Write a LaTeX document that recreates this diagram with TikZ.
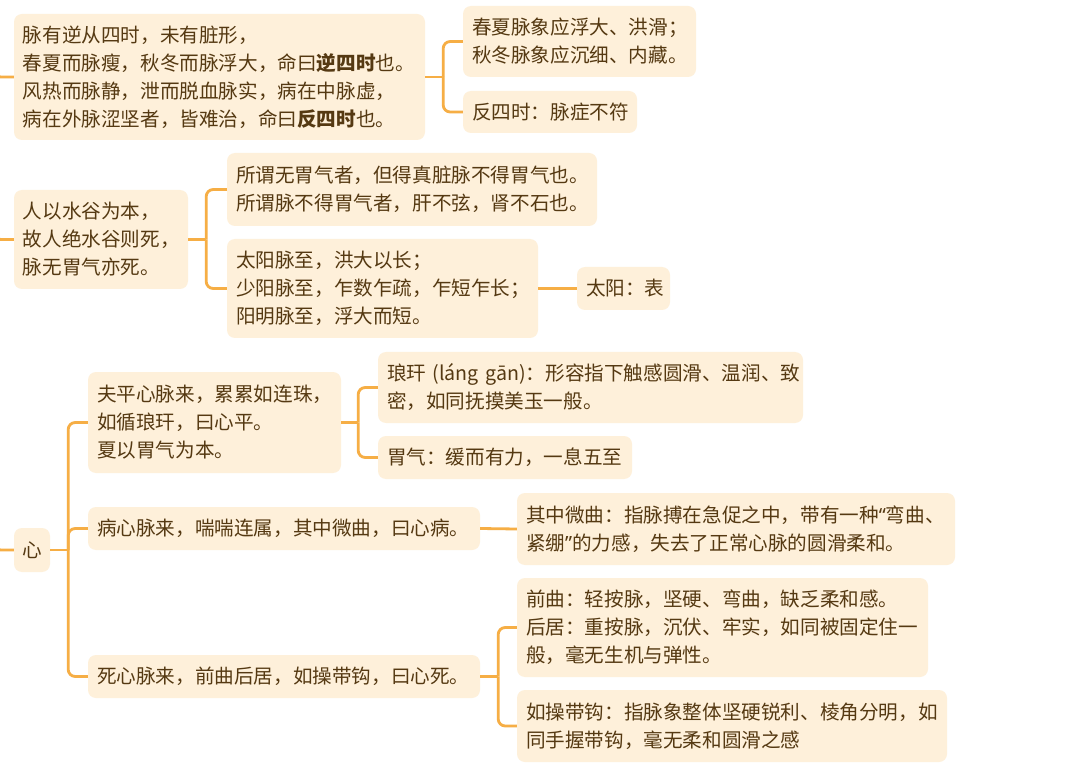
\documentclass[tikz,border=0pt]{standalone}
\usepackage{fontspec}
\setmainfont{Noto Sans CJK SC}
\newfontfamily\latq{Noto Sans}
\definecolor{boxfill}{HTML}{FEF0DA}
\definecolor{txt}{HTML}{553912}
\definecolor{ln}{HTML}{F6AE45}
\tikzset{
  box/.style={fill=boxfill, rounded corners=8pt, inner xsep=9pt, inner ysep=0pt,
    align=left, text=txt, font=\fontsize{19.6}{28}\selectfont},
  conn/.style={draw=ln, line width=2.8pt, rounded corners=7pt},
}
\newcommand{\bx}[6]{% name, cx, cy, w, h, text
  \node[box, minimum width=#4pt, minimum height=#5pt, text width=#4pt-18pt] (#1) at (#2,#3) {#6};}
\begin{document}
\begin{tikzpicture}[x=1pt,y=-1pt]
\path[fill=white] (0,0) rectangle (1080,770);
\useasboundingbox (0,0) rectangle (1080,770);

% group 1
\bx{A}{219.5}{77}{411}{126}{脉有逆从四时，未有脏形，\\春夏而脉瘦，秋冬而脉浮大，命曰{\bfseries 逆四时}也。\\风热而脉静，泄而脱血脉实，病在中脉虚，\\病在外脉涩坚者，皆难治，命曰{\bfseries 反四时}也。}
\bx{B1}{579.5}{41.5}{233}{71}{春夏脉象应浮大、洪滑；\\秋冬脉象应沉细、内藏。}
\bx{B2}{550}{112}{174}{42}{反四时：脉症不符}

% group 2
\bx{C}{101}{239.5}{174}{99}{人以水谷为本，\\故人绝水谷则死，\\脉无胃气亦死。}
\bx{D1}{412}{189.5}{370}{73}{所谓无胃气者，但得真脏脉不得胃气也。\\所谓脉不得胃气者，肝不弦，肾不石也。}
\bx{D2}{382.5}{288.5}{311}{99}{太阳脉至，洪大以长；\\少阳脉至，乍数乍疏，乍短乍长；\\阳明脉至，浮大而短。}
\bx{D3}{623.5}{288.5}{93}{43}{太阳：表}

% group 3
\node[box, align=center, inner xsep=0pt, minimum width=36pt, minimum height=44pt] (R) at (32,550) {心};
\bx{E1}{214.5}{422.5}{253}{101}{夫平心脉来，累累如连珠，\\如循琅玕，曰心平。\\夏以胃气为本。}
\bx{E2}{284}{528.5}{392}{43}{病心脉来，喘喘连属，其中微曲，曰心病。}
\bx{E3}{284}{676.5}{392}{43}{死心脉来，前曲后居，如操带钩，曰心死。}
\bx{F1}{590.5}{387.5}{425}{71}{琅玕 (láng gān)：形容指下触感圆滑、温润、致\\密，如同抚摸美玉一般。}
\bx{F2}{505}{457.5}{254}{43}{胃气：缓而有力，一息五至}
\bx{G}{736}{529}{438}{72}{其中微曲：指脉搏在急促之中，带有一种{\latq “}弯曲、\\紧绷{\latq ”}的力感，失去了正常心脉的圆滑柔和。}
\bx{H1}{722.5}{627.5}{411}{99}{前曲：轻按脉，坚硬、弯曲，缺乏柔和感。\\后居：重按脉，沉伏、牢实，如同被固定住一\\般，毫无生机与弹性。}
\bx{H2}{732}{726}{430}{72}{如操带钩：指脉象整体坚硬锐利、棱角分明，如\\同手握带钩，毫无柔和圆滑之感}

% off-picture parents
\coordinate (sA) at (-6,45);
\coordinate (sC) at (-6,205);
\coordinate (sR) at (-6,515);
\draw[conn] (sA) |- (A.west);
\draw[conn] (sC) |- (C.west);
\draw[conn] (sR) |- (R.west);

% junctions
\coordinate (jA) at ([xshift=18pt]A.east);
\coordinate (jC) at ([xshift=18pt]C.east);
\coordinate (jR) at ([xshift=18pt]R.east);
\coordinate (jE1) at ([xshift=17pt]E1.east);
\coordinate (jE3) at ([xshift=18pt]E3.east);

\draw[conn] (A.east) -- (jA);
\draw[conn] (jA) |- (B1.west);
\draw[conn] (jA) |- (B2.west);

\draw[conn] (C.east) -- (jC);
\draw[conn] (jC) |- (D1.west);
\draw[conn] (jC) |- (D2.west);
\draw[conn] (D2.east) -- (D3.west);

\draw[conn] (R.east) -- (jR);
\draw[conn] (jR) |- (E1.west);
\draw[conn] (jR) |- (E2.west);
\draw[conn] (jR) |- (E3.west);

\draw[conn] (E1.east) -- (jE1);
\draw[conn] (jE1) |- (F1.west);
\draw[conn] (jE1) |- (F2.west);

\draw[conn] (E2.east) -- (G.west);

\draw[conn] (E3.east) -- (jE3);
\draw[conn] (jE3) |- (H1.west);
\draw[conn] (jE3) |- (H2.west);
\end{tikzpicture}
\end{document}
